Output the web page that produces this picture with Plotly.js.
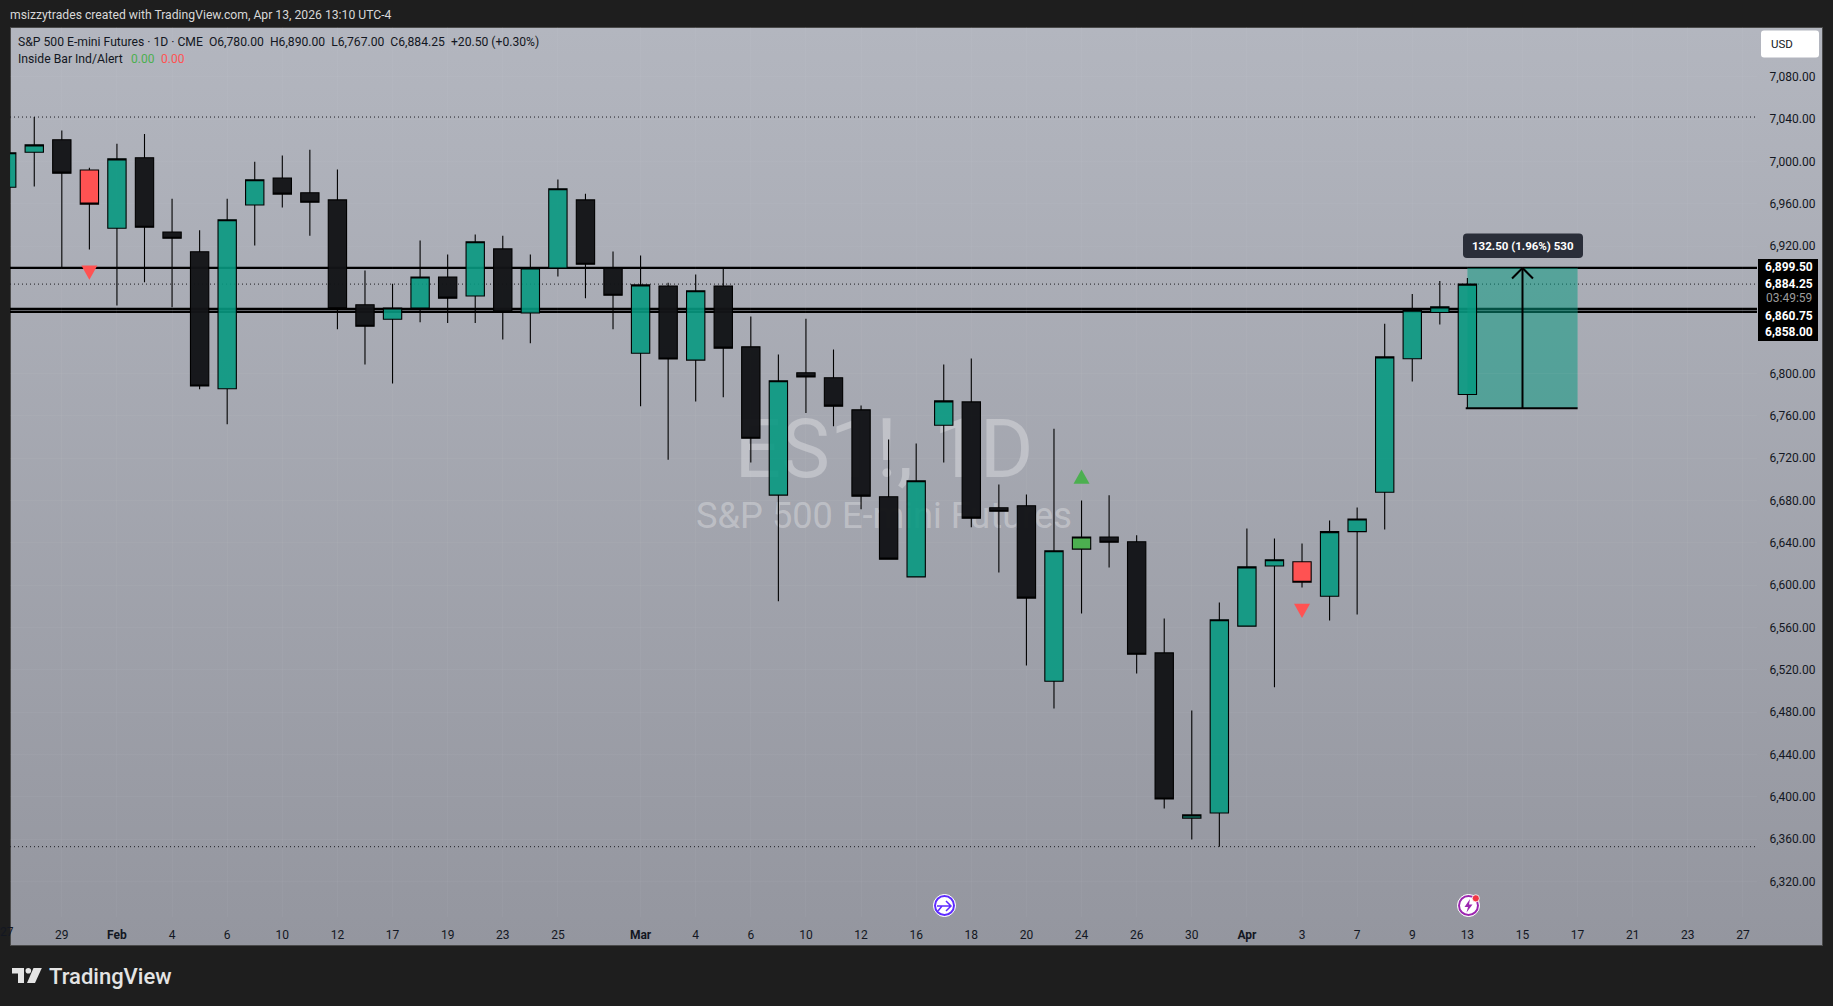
<!DOCTYPE html>
<html>
<head>
<meta charset="utf-8">
<script src="https://cdn.plot.ly/plotly-3.0.1.min.js"></script>
<style>
html,body{margin:0;padding:0;background:#1e1e1e;width:1833px;height:1006px;overflow:hidden}
#pane{position:absolute;left:9.5px;top:27px;width:1813px;height:919px;box-sizing:border-box;border:1px solid #4a4a4a;background:linear-gradient(180deg,#b3b6bf 0%,#94969f 100%)}
.wm{position:absolute;left:484px;width:800px;text-align:center;font-family:Roboto,sans-serif;color:rgba(255,255,255,0.3);white-space:nowrap}
#chart{position:absolute;left:0;top:0;width:1833px;height:1006px}
</style>
</head>
<body>
<div id="pane"></div>
<div class="wm" style="top:412px;font-size:82px;line-height:74px;height:74px">ES1!, 1D</div>
<div class="wm" style="top:498px;font-size:36.2px;line-height:36px;height:36px">S&amp;P 500 E-mini Futures</div>
<div id="chart"></div>
<script>
// ---------- data ----------
var opens  = [6975.75,7008.75,7020.5,6992,6937,7003.5,6933.5,6914.75,6785.5,6959,6984.5,6970.5,6963.75,6864.75,6851,6861.75,6891,6873,6917.5,6857,6899.5,6963.75,6899.25,6819,6882.5,6812.5,6882.5,6825,6685,6800.5,6795.75,6765.5,6683.5,6607.75,6751,6773,6673,6675,6509.25,6634,6645.5,6641,6536,6380,6384.75,6561.25,6618,6622,6589.5,6650.5,6687.75,6813.75,6857.5,6780];
var highs  = [7012,7042,7029.25,6994,7016.75,7026,6964.75,6935,6964.75,6999.75,7005.75,7011,6992.5,6897,6884.5,6925.5,6912.25,6931,6930,6912.25,6983,6969.5,6915,6911.25,6885.5,6893.25,6898.75,6853.75,6817.75,6851.5,6822.5,6769.5,6737.5,6733.75,6808.25,6814,6695,6685.5,6747.75,6680,6684.75,6647,6568.5,6481.5,6583.5,6653.5,6644,6639.25,6661,6673.25,6846.75,6875,6887.25,6890];
var lows   = [6972,6976.5,6899.5,6917,6864,6886,6862.5,6785,6752,6920.75,6956.5,6930,6841.5,6808.25,6790.5,6848.25,6847.5,6847.5,6832,6828.5,6891.5,6871,6841.5,6769,6718.5,6773.5,6777.5,6715.75,6584.75,6762.5,6750,6671.75,6624.5,6607.75,6715.75,6654.75,6612,6524,6483.5,6573.25,6616.75,6516.5,6389,6359.75,6353,6561.25,6503.5,6597.75,6566.5,6572.25,6652.5,6792.25,6846,6767];
var closes = [7008.25,7015.75,6989,6959.75,7002.5,6938,6927.5,6788,6945,6982.75,6969.25,6961.5,6861,6844.5,6861.75,6891,6871,6924.25,6857.75,6899.5,6974.25,6903,6873.75,6883.5,6813.5,6878,6823.75,6738.75,6793,6796.5,6769,6684,6624.5,6698.5,6774,6663.25,6669.75,6587.75,6632.5,6645.5,6640.5,6534.75,6398,6383,6567.25,6617.25,6624,6602.75,6650.5,6662.5,6815.5,6859.5,6862.75,6884.25];
var insideDownBars = [3,47];
var insideUpBars = [39];
var signalDownBars = [3,47];
var signalDownTops = [6901.75,6582.5];
var signalUpBars = [39];
var signalUpTips = [6709.25];
var levelsSolid = [6899.5,6860.75,6858];
var levelsDotted = [7042,6884.25,6353];
var xTickVals = [2,4,6,8,10,12,14,16,18,20,23,25,27,29,31,33,35,37,39,41,43,45,47,49,51,53,55,57,59,61,63];
var xTickText = ['29','<b>Feb</b>','4','6','10','12','17','19','23','25','<b>Mar</b>','4','6','10','12','16','18','20','24','26','30','<b>Apr</b>','3','7','9','13','15','17','21','23','27'];
var yTickVals = [7080,7040,7000,6960,6920,6800,6760,6720,6680,6640,6600,6560,6520,6480,6440,6400,6360,6320];
var rangeLow = 6767, rangeHigh = 6899.5, rangeStartBar = 53, rangeEndBar = 57;
var priceTags = ['6,899.50','6,884.25','03:49:59','6,860.75','6,858.00'];

// ---------- page geometry helpers ----------
var W = 1833, H = 1006;
function px(x){return x/W;}
function py(y){return 1-y/H;}
function polyPath(pts){
  return 'M'+pts.map(function(p){return px(p[0])+','+py(p[1]);}).join(' L')+' Z';
}
function rrect(x0,y0,x1,y1,r){
  var a=function(x,y){return px(x)+','+py(y);};
  return 'M'+a(x0+r,y0)+' L'+a(x1-r,y0)+' Q'+a(x1,y0)+' '+a(x1,y0+r)+' L'+a(x1,y1-r)+' Q'+a(x1,y1)+' '+a(x1-r,y1)+
    ' L'+a(x0+r,y1)+' Q'+a(x0,y1)+' '+a(x0,y1-r)+' L'+a(x0,y0+r)+' Q'+a(x0,y0)+' '+a(x0+r,y0)+' Z';
}
function circle(cx,cy,r,fill,line,lw){
  return {type:'circle',xref:'paper',yref:'paper',x0:px(cx-r),x1:px(cx+r),y0:py(cy+r),y1:py(cy-r),fillcolor:fill,line:{color:line,width:lw},layer:'above'};
}
function pathShape(d,fill,line,lw){
  return {type:'path',xref:'paper',yref:'paper',path:d,fillcolor:fill,line:{color:line||'rgba(0,0,0,0)',width:lw||0},layer:'above'};
}

// ---------- candles ----------
var TEAL='rgba(8,153,129,0.9)', BLACK='rgba(19,20,23,0.97)', RED='#ff5252', GREEN='#4caf50';
function isSpecial(i){return insideDownBars.indexOf(i)>=0||insideUpBars.indexOf(i)>=0;}
var allBars = closes.map(function(_,i){return i;});
function candle(bars,up,down){
  return {type:'candlestick',x:bars,
    open:bars.map(function(i){return opens[i];}),
    high:bars.map(function(i){return highs[i];}),
    low:bars.map(function(i){return lows[i];}),
    close:bars.map(function(i){return closes[i];}),
    increasing:{fillcolor:up,line:{color:'#000',width:1.1}},
    decreasing:{fillcolor:down,line:{color:'#000',width:1.1}},
    whiskerwidth:0,hoverinfo:'skip',showlegend:false};
}
var TRI_HALF=0.29, TRI_H=13.5;
function triangles(bars,refs,dir,color){
  var xs=[],ys=[];
  bars.forEach(function(b,k){
    var r=refs[k];
    if(dir<0){xs.push(b-TRI_HALF,b+TRI_HALF,b,null);ys.push(r,r,r-TRI_H,null);}
    else{xs.push(b-TRI_HALF,b+TRI_HALF,b,null);ys.push(r-TRI_H,r-TRI_H,r,null);}
  });
  return {type:'scatter',mode:'lines',x:xs,y:ys,fill:'toself',fillcolor:color,line:{width:0,color:color},hoverinfo:'skip',showlegend:false};
}
var traces = [
  candle(allBars.filter(function(i){return !isSpecial(i);}),TEAL,BLACK),
  candle(insideDownBars,TEAL,RED),
  candle(insideUpBars,GREEN,BLACK),
  triangles(signalDownBars,signalDownTops,-1,RED),
  triangles(signalUpBars,signalUpTips,1,GREEN)
];

// ---------- shapes ----------
var shapes = [];
levelsSolid.forEach(function(v){
  shapes.push({type:'line',xref:'paper',yref:'y',x0:px(10),x1:px(1757),y0:v,y1:v,line:{color:'#000',width:2.3},layer:'below'});
});
levelsDotted.forEach(function(v){
  shapes.push({type:'line',xref:'paper',yref:'y',x0:px(10),x1:px(1757),y0:v,y1:v,line:{color:'#1c1c20',width:1,dash:'1px,3px'},layer:'below'});
});
// measured price range
shapes.push({type:'rect',xref:'x',yref:'y',x0:rangeStartBar,x1:rangeEndBar,y0:rangeLow,y1:rangeHigh,fillcolor:'rgba(8,153,129,0.52)',line:{width:0},layer:'below'});
var midBar=(rangeStartBar+rangeEndBar)/2;
shapes.push({type:'line',xref:'x',yref:'y',x0:rangeStartBar-0.06,x1:rangeEndBar,y0:rangeLow,y1:rangeLow,line:{color:'#000',width:2},layer:'above'});
shapes.push({type:'line',xref:'x',yref:'y',x0:midBar,x1:midBar,y0:rangeLow,y1:rangeHigh,line:{color:'#000',width:2},layer:'above'});
shapes.push({type:'line',xref:'x',yref:'y',x0:midBar-0.38,x1:midBar,y0:rangeHigh-10,y1:rangeHigh,line:{color:'#000',width:2},layer:'above'});
shapes.push({type:'line',xref:'x',yref:'y',x0:midBar+0.38,x1:midBar,y0:rangeHigh-10,y1:rangeHigh,line:{color:'#000',width:2},layer:'above'});
// tooltip box
shapes.push(pathShape(rrect(1463,233.5,1583,258,4),'#2a2e39'));
// price tag block
shapes.push({type:'rect',xref:'paper',yref:'paper',x0:px(1758),x1:px(1818),y0:py(341),y1:py(259),fillcolor:'#000',line:{width:0},layer:'above'});
// USD button
shapes.push(pathShape(rrect(1761,30.5,1819,57.5,3),'#ffffff'));
// event icons
shapes.push(circle(944.5,905.5,11,'#ffffff','#ffffff',1));
shapes.push(circle(944.5,905.5,9.5,'#ffffff','#5e2bff',2));
shapes.push(pathShape('M'+px(937)+','+py(906)+' L'+px(951)+','+py(906)+' M'+px(946)+','+py(901)+' L'+px(951)+','+py(906)+' L'+px(946)+','+py(911)+' M'+px(938)+','+py(911)+' L'+px(942)+','+py(906),'rgba(0,0,0,0)','#5e2bff',1.5));
shapes.push(circle(1468.5,905.5,11,'#ffffff','#ffffff',1));
shapes.push(circle(1468.5,905.5,9.5,'#ffffff','#9c27b0',2));
shapes.push(pathShape(polyPath([[1470,899],[1464.5,907],[1468,907],[1466.5,912.5],[1472.5,904.5],[1469,904.5]]),'#9c27b0'));
shapes.push(circle(1475.8,898.3,3.6,'#f23645','#ffffff',0.8));
// TradingView mark
shapes.push(pathShape(polyPath([[12,968],[24,968],[24,983],[18,983],[18,973.5],[12,973.5]]),'#e4e4e4'));
shapes.push(circle(28.3,970.7,2.8,'#e4e4e4','#e4e4e4',0));
shapes.push(pathShape(polyPath([[33.5,968],[41.8,968],[35,983],[27,983]]),'#e4e4e4'));

// ---------- text ----------
var DARK='#131722', FONT='Roboto, sans-serif';
function note(x,y,text,size,color,anchor,weight){
  return {xref:'paper',yref:'paper',x:px(x),y:py(y),text:text,showarrow:false,xanchor:anchor||'left',yanchor:'middle',
    font:{family:FONT,size:size,color:color,weight:weight||400},borderpad:0,borderwidth:0};
}
var annotations = [
  note(10,14.7,'msizzytrades created with TradingView.com, Apr 13, 2026 13:10 UTC-4',12.2,'#d8d8d8'),
  note(17.8,41.7,'S&P 500 E-mini Futures · 1D · CME  O6,780.00  H6,890.00  L6,767.00  C6,884.25  +20.50 (+0.30%)',12.17,DARK),
  note(17.8,58.7,'Inside Bar Ind/Alert',12.2,DARK),
  note(131,58.7,'0.00',12,GREEN),
  note(161,58.7,'0.00',12,RED),
  note(1523,245.7,'<b>132.50 (1.96%) 530</b>',11.5,'#ffffff','center'),
  note(1771,44.3,'USD',11.5,DARK),
  note(6.7,931.7,'27',12,DARK,'center'),
  note(49.4,976,'TradingView',22,'#e4e4e4','left',500)
];
var tagY=[267.4,284,297.7,315.6,332.4];
priceTags.forEach(function(t,k){
  annotations.push(note(1789,tagY[k],k===2?t:'<b>'+t+'</b>',12,k===2?'#9c9c9c':'#ffffff','center'));
});

var yZero=76.8;
var layout = {
  width:W,height:H,margin:{l:0,r:0,t:0,b:0,pad:0},
  paper_bgcolor:'rgba(0,0,0,0)',plot_bgcolor:'rgba(0,0,0,0)',
  showlegend:false,boxgap:0.05,boxmode:'overlay',hovermode:false,
  xaxis:{domain:[px(10),px(1757)],range:[(10-6.7)/27.56,(1757-6.7)/27.56],type:'linear',rangeslider:{visible:false},
    tickmode:'array',tickvals:xTickVals,ticktext:xTickText,ticks:'outside',ticklen:7,tickcolor:'rgba(0,0,0,0)',
    tickfont:{family:FONT,size:12,color:DARK},showgrid:true,gridcolor:'rgba(255,255,255,0.035)',gridwidth:1,zeroline:false,showline:false,fixedrange:true},
  yaxis:{domain:[py(917),py(27.3)],range:[7080-(917-yZero)/1.059,7080+(yZero-27.3)/1.059],side:'right',
    tickmode:'array',tickvals:yTickVals,tickformat:',.2f',ticks:'outside',ticklen:9,tickcolor:'rgba(0,0,0,0)',
    tickfont:{family:FONT,size:12,color:DARK},showgrid:true,gridcolor:'rgba(255,255,255,0.035)',gridwidth:1,zeroline:false,showline:false,fixedrange:true},
  shapes:shapes,annotations:annotations
};
Plotly.newPlot('chart',traces,layout,{displayModeBar:false,staticPlot:true});
</script>
</body>
</html>
